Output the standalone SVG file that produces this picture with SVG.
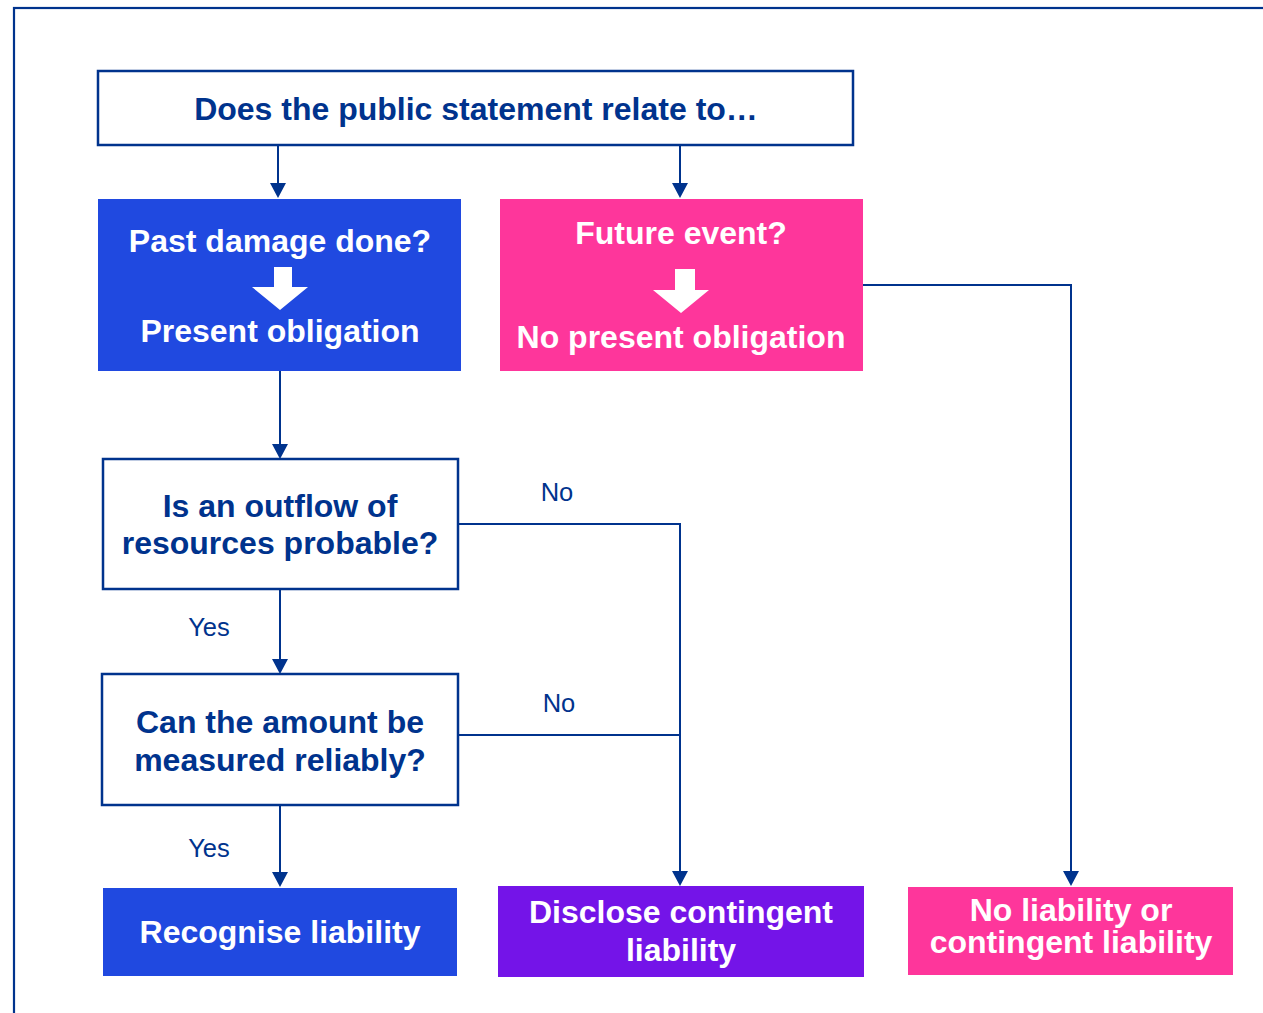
<svg xmlns="http://www.w3.org/2000/svg" width="1263" height="1013" viewBox="0 0 1263 1013">
<defs>
<style>
.q{fill:#fff;stroke:#00338D;stroke-width:2.5}
.qt{font-family:"Liberation Sans",Arial,sans-serif;font-weight:bold;font-size:32px;fill:#00338D;text-anchor:middle}
.wt{font-family:"Liberation Sans",Arial,sans-serif;font-weight:bold;font-size:32px;fill:#fff;text-anchor:middle}
.lb{font-family:"Liberation Sans",Arial,sans-serif;font-size:25.5px;fill:#00338D;text-anchor:middle}
.blue{fill:#2049E0}
.pink{fill:#FE369B}
.purple{fill:#7414E8}
.c{fill:none;stroke:#00338D;stroke-width:2}
.ah{fill:#00338D}
</style>
</defs>
<rect width="1263" height="1013" fill="#fff"/>
<rect x="14" y="8" width="1300" height="1100" fill="none" stroke="#00338D" stroke-width="2.2"/>

<g id="connectors">
<path class="c" d="M278,145 V183"/>
<path class="ah" d="M270,183 L286,183 L278,198 Z"/>
<path class="c" d="M680,145 V183"/>
<path class="ah" d="M672,183 L688,183 L680,198 Z"/>
<path class="c" d="M280,371 V444"/>
<path class="ah" d="M272,444 L288,444 L280,459 Z"/>
<path class="c" d="M280,589 V659"/>
<path class="ah" d="M272,659 L288,659 L280,674 Z"/>
<path class="c" d="M280,806 V872"/>
<path class="ah" d="M272,872 L288,872 L280,887 Z"/>
<path class="c" d="M458,524 H680 V871"/>
<path class="ah" d="M672,871 L688,871 L680,886 Z"/>
<path class="c" d="M459,735 H680" stroke-width="1.3"/>
<path class="c" d="M863,285 H1071 V871"/>
<path class="ah" d="M1063,871 L1079,871 L1071,886 Z"/>
<text class="lb" x="557" y="501">No</text>
<text class="lb" x="559" y="712">No</text>
<text class="lb" x="209" y="636">Yes</text>
<text class="lb" x="209" y="857">Yes</text>
</g>

<g id="n-question">
<rect class="q" x="98" y="71" width="755" height="74"/>
<text class="qt" x="476" y="120">Does the public statement relate to…</text>
</g>

<g id="n-past">
<rect class="blue" x="98" y="199" width="363" height="172"/>
<text class="wt" x="280" y="252">Past damage done?</text>
<polygon points="274,267 292,267 292,287 308,287 280,310 252,287 274,287" fill="#fff"/>
<text class="wt" x="280" y="342">Present obligation</text>
</g>

<g id="n-future">
<rect class="pink" x="500" y="199" width="363" height="172"/>
<text class="wt" x="681" y="244">Future event?</text>
<polygon points="675,269 695,269 695,290 709,290 681,313 653,290 675,290" fill="#fff"/>
<text class="wt" x="681" y="348">No present obligation</text>
</g>

<g id="n-outflow">
<rect class="q" x="103" y="459" width="355" height="130" stroke-width="2.2"/>
<text class="qt" x="280" y="517">Is an outflow of</text>
<text class="qt" x="280" y="554">resources probable?</text>
</g>

<g id="n-measure">
<rect class="q" x="102" y="674" width="356" height="131" stroke-width="2.2"/>
<text class="qt" x="280" y="733">Can the amount be</text>
<text class="qt" x="280" y="771">measured reliably?</text>
</g>

<g id="n-recognise">
<rect class="blue" x="103" y="888" width="354" height="88"/>
<text class="wt" x="280" y="943">Recognise liability</text>
</g>

<g id="n-disclose">
<rect class="purple" x="498" y="886" width="366" height="91"/>
<text class="wt" x="681" y="923">Disclose contingent</text>
<text class="wt" x="681" y="961">liability</text>
</g>

<g id="n-noliability">
<rect class="pink" x="908" y="887" width="325" height="88"/>
<text class="wt" x="1071" y="921">No liability or</text>
<text class="wt" x="1071" y="953">contingent liability</text>
</g>
</svg>
